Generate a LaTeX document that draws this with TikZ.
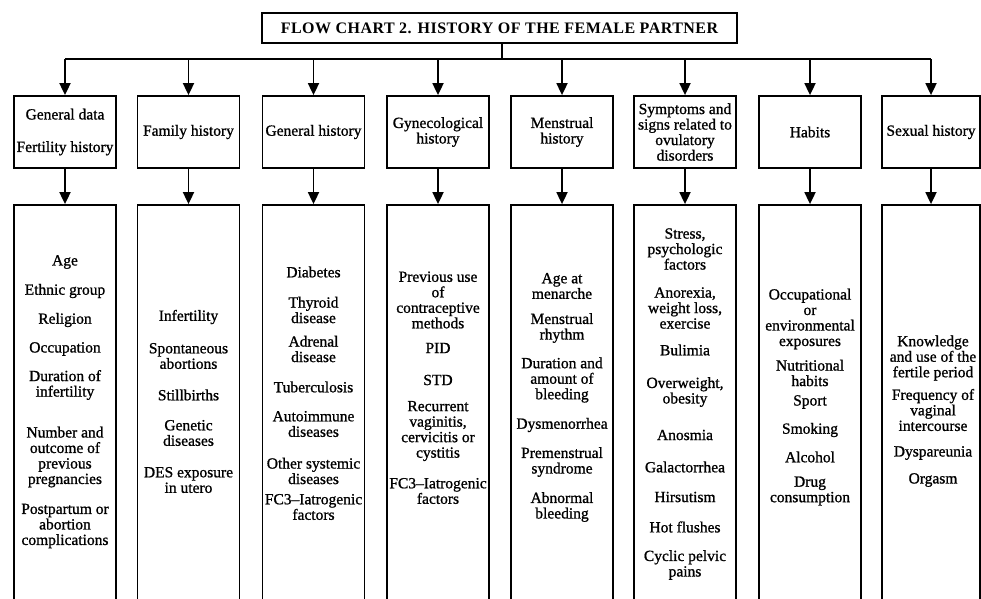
\documentclass[tikz,border=0pt]{standalone}
\usepackage{fontspec}
\setmainfont{Liberation Serif}[FakeBold=1.0]
\newfontfamily\chartitlefont{Liberation Serif}[LetterSpace=3.0]
\usetikzlibrary{arrows.meta}
\newcommand\itemfont{\fontsize{15.5}{15.5}\selectfont}

\begin{document}
\begin{tikzpicture}[x=1pt,y=-1pt,
  frame/.style={draw, line width=1.8pt},
  titlebox/.style={frame, minimum width=475pt, minimum height=30pt, inner sep=0pt,
    font=\chartitlefont\bfseries\fontsize{16}{16}\selectfont},
  headbox/.style={frame, minimum width=102pt, minimum height=72pt, inner sep=0pt,
    align=center, font=\itemfont},
  listbox/.style={frame, minimum width=102pt, minimum height=415pt, inner sep=0pt},
  item/.style={align=center, inner sep=0pt, font=\itemfont},
  bus/.style={line width=1.8pt},
  link/.style={line width=1.8pt, -{Triangle[width=11pt,length=12pt]}}]

\useasboundingbox (0,0) rectangle (981,598);
\clip (0,0) rectangle (981,598);
\fill[white] (0,0) rectangle (981,598);

% title and the distribution bus
\node[titlebox] (title) at (499.5,28) {FLOW CHART 2. HISTORY OF THE FEMALE PARTNER};
\coordinate (b1) at (65,59);
\coordinate (b8) at (931,59);
\coordinate (bt) at (502,59);
\draw[bus] (title.south -| bt) -- (bt);
\draw[bus] (b1) -- (b8);

% category boxes
\node[headbox] (h1) at (65,132) {General data\\[17pt]Fertility history};
\node[headbox] (h2) at (188.5,132) {Family history};
\node[headbox] (h3) at (313.5,132) {General history};
\node[headbox] (h4) at (438,132) {Gynecological\\history};
\node[headbox] (h5) at (562,132) {Menstrual\\history};
\node[headbox] (h6) at (685,132) {Symptoms and\\signs related to\\ovulatory\\disorders};
\node[headbox] (h7) at (810,132) {Habits};
\node[headbox, minimum width=98pt] (h8) at (931,132) {Sexual history};

% detail boxes
\node[listbox] (l1) at (65,412.5) {};
\node[listbox] (l2) at (188.5,412.5) {};
\node[listbox] (l3) at (313.5,412.5) {};
\node[listbox] (l4) at (438,412.5) {};
\node[listbox] (l5) at (562,412.5) {};
\node[listbox] (l6) at (685,412.5) {};
\node[listbox] (l7) at (810,412.5) {};
\node[listbox, minimum width=98pt] (l8) at (931,412.5) {};

% arrows from the bus to each category, and on to its details
\foreach \i in {1,...,8}{
  \draw[link] (h\i.north |- b1) -- (h\i.north);
  \draw[link] (h\i.south) -- (l\i.north);
}

% General data / fertility history
\node[item] (a1) at (65,262) {Age};
\node[item] (a2) at (65,291) {Ethnic group};
\node[item] (a3) at (65,320) {Religion};
\node[item] (a4) at (65,349) {Occupation};
\node[item] (a5) at (65,385) {Duration of\\infertility};
\node[item] (a6) at (65,457) {Number and\\outcome of\\previous\\pregnancies};
\node[item] (a7) at (65,526) {Postpartum or\\abortion\\complications};

% Family history
\node[item] (f1) at (188.5,317) {Infertility};
\node[item] (f2) at (188.5,356) {Spontaneous\\abortions};
\node[item] (f3) at (188.5,395) {Stillbirths};
\node[item] (f4) at (188.5,433) {Genetic\\diseases};
\node[item] (f5) at (188.5,480) {DES exposure\\in utero};

% General history
\node[item] (g1) at (313.5,272) {Diabetes};
\node[item] (g2) at (313.5,310) {Thyroid\\disease};
\node[item] (g3) at (313.5,349) {Adrenal\\disease};
\node[item] (g4) at (313.5,387) {Tuberculosis};
\node[item] (g5) at (313.5,424) {Autoimmune\\diseases};
\node[item] (g6) at (313.5,471) {Other systemic\\diseases};
\node[item] (g7) at (313.5,507) {FC3--Iatrogenic\\factors};

% Gynecological history
\node[item] (y1) at (438,300) {Previous use\\of\\contraceptive\\methods};
\node[item] (y2) at (438,348) {PID};
\node[item] (y3) at (438,380) {STD};
\node[item] (y4) at (438,431) {Recurrent\\vaginitis,\\cervicitis or\\cystitis};
\node[item] (y5) at (438,491) {FC3--Iatrogenic\\factors};

% Menstrual history
\node[item] (m1) at (562,286) {Age at\\menarche};
\node[item] (m2) at (562,328) {Menstrual\\rhythm};
\node[item] (m3) at (562,380) {Duration and\\amount of\\bleeding};
\node[item] (m4) at (562,425) {Dysmenorrhea};
\node[item] (m5) at (562,462) {Premenstrual\\syndrome};
\node[item] (m6) at (562,507) {Abnormal\\bleeding};

% Symptoms and signs related to ovulatory disorders
\node[item] (s1) at (685,249) {Stress,\\psychologic\\factors};
\node[item] (s2) at (685,308) {Anorexia,\\weight loss,\\exercise};
\node[item] (s3) at (685,350) {Bulimia};
\node[item] (s4) at (685,392) {Overweight,\\obesity};
\node[item] (s5) at (685,435) {Anosmia};
\node[item] (s6) at (685,467) {Galactorrhea};
\node[item] (s7) at (685,497) {Hirsutism};
\node[item] (s8) at (685,527) {Hot flushes};
\node[item] (s9) at (685,565) {Cyclic pelvic\\pains};

% Habits
\node[item] (t1) at (810,319) {Occupational\\or\\environmental\\exposures};
\node[item] (t2) at (810,373) {Nutritional\\habits};
\node[item] (t3) at (810,402) {Sport};
\node[item] (t4) at (810,430) {Smoking};
\node[item] (t5) at (810,457) {Alcohol};
\node[item] (t6) at (810,491) {Drug\\consumption};

% Sexual history
\node[item] (x1) at (933,358) {Knowledge\\and use of the\\fertile period};
\node[item] (x2) at (933,410) {Frequency of\\vaginal\\intercourse};
\node[item] (x3) at (933,453) {Dyspareunia};
\node[item] (x4) at (933,480) {Orgasm};
\end{tikzpicture}
\end{document}
